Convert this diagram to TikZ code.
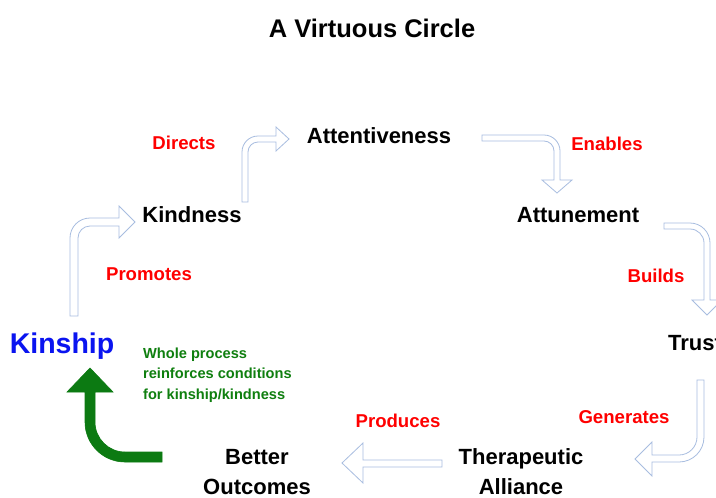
\documentclass[tikz,border=0pt]{standalone}
\usepackage{fontspec}
\setmainfont{Liberation Sans}
\definecolor{arrowblue}{HTML}{A8BDE0}
\definecolor{lblred}{HTML}{FF0000}
\definecolor{kinblue}{HTML}{0A14F0}
\definecolor{procgreen}{HTML}{0F7F0F}
\definecolor{arrgreen}{HTML}{0C7A12}
\begin{document}
\begin{tikzpicture}[x=1pt,y=-1pt,
  title/.style={font=\fontsize{25.5}{28}\selectfont\bfseries, anchor=base, inner sep=0pt},
  concept/.style={font=\fontsize{22}{30}\selectfont\bfseries, anchor=base, inner sep=0pt, align=center},
  verb/.style={font=\fontsize{18.6}{22}\selectfont\bfseries, text=lblred, anchor=base, inner sep=0pt},
  kin/.style={font=\fontsize{28.5}{32}\selectfont\bfseries, text=kinblue, anchor=base, inner sep=0pt},
  note/.style={font=\fontsize{14.6}{20.5}\selectfont\bfseries, text=procgreen, anchor=base west, inner sep=0pt, align=left},
  blockarrow/.style={draw=arrowblue, fill=white, line width=0.8pt, line join=miter},
  greenarrow/.style={draw=arrgreen, fill=arrgreen, line width=0.6pt}]
\useasboundingbox[fill=white] (0,0) rectangle (716,498);

% texts
\node[title] (title) at (372,37) {A Virtuous Circle};
\node[verb] (directs) at (184,149) {Directs};
\node[concept] (attentiveness) at (379,143) {Attentiveness};
\node[verb] (enables) at (607,150) {Enables};
\node[concept] (kindness) at (192,222) {Kindness};
\node[concept] (attunement) at (578,222) {Attunement};
\node[verb] (promotes) at (149,280) {Promotes};
\node[verb] (builds) at (656,282) {Builds};
\node[kin] (kinship) at (62,353) {Kinship};
\node[concept, anchor=base west] (trust) at (668,350) {Trust};
\node[note] (process) at (143,399) {Whole process\\reinforces conditions\\for kinship/kindness};
\node[verb] (generates) at (624,423) {Generates};
\node[verb] (produces) at (398,427) {Produces};
\node[concept] (outcomes) at (257,494) {Better\\Outcomes};
\node[concept] (alliance) at (521,494) {Therapeutic\\Alliance};

% Kinship -> Kindness
\draw[blockarrow] (70,316) -- (70,238) arc[start angle=180,end angle=270,radius=20]
  -- (119,218) -- (119,206) -- (135,222) -- (119,238) -- (119,226) -- (90,226)
  arc[start angle=270,end angle=180,radius=12] -- (78,316) -- cycle;
% Kindness -> Attentiveness
\draw[blockarrow] (242,202) -- (242,152) arc[start angle=180,end angle=270,radius=16]
  -- (276,136) -- (276,127) -- (289,139) -- (276,151) -- (276,142) -- (258,142)
  arc[start angle=270,end angle=180,radius=10] -- (248,202) -- cycle;
% Attentiveness -> Attunement
\draw[blockarrow] (482,135) -- (544,135) arc[start angle=270,end angle=360,radius=16]
  -- (560,180) -- (572,180) -- (557,193) -- (542,180) -- (554,180) -- (554,151)
  arc[start angle=0,end angle=-90,radius=10] -- (482,141) -- cycle;
% Attunement -> Trust
\draw[blockarrow] (664,223) -- (690,223) arc[start angle=270,end angle=360,radius=20]
  -- (710,300) -- (722,300) -- (707,315) -- (692,300) -- (704,300) -- (704,243)
  arc[start angle=0,end angle=-90,radius=14] -- (664,229) -- cycle;
% Trust -> Therapeutic Alliance
\draw[blockarrow] (697,380) -- (704,380) -- (704,437) arc[start angle=0,end angle=90,radius=25]
  -- (652,462) -- (652,476) -- (635,459) -- (652,442) -- (652,455) -- (679,455)
  arc[start angle=90,end angle=0,radius=18] -- cycle;
% Therapeutic Alliance -> Better Outcomes
\draw[blockarrow] (442,460) -- (363,460) -- (363,443) -- (342,463) -- (363,483)
  -- (363,467) -- (442,467) -- cycle;
% Better Outcomes -> Kinship (green)
\draw[greenarrow] (162,452) -- (125,452) arc[start angle=90,end angle=180,radius=30]
  -- (95,392) -- (113,392) -- (90,368) -- (67,392) -- (85,392) -- (85,422)
  arc[start angle=180,end angle=90,radius=40] -- (162,462) -- cycle;
\end{tikzpicture}
\end{document}
